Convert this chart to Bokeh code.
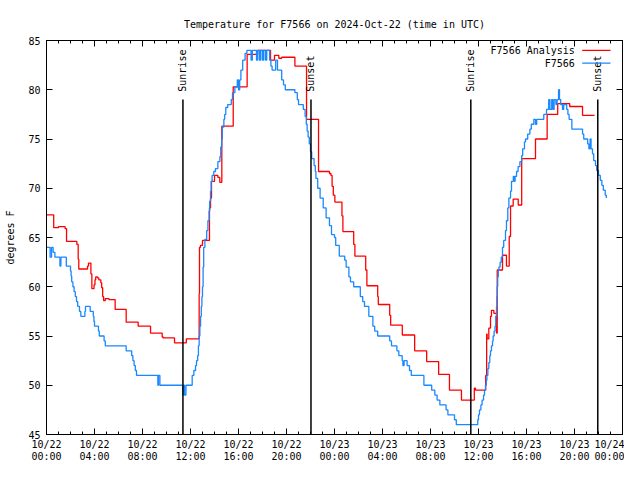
import numpy as np
import pandas as pd
from bokeh.plotting import figure
from bokeh.models import (Range1d, FixedTicker, DatetimeTickFormatter, DatetimeAxis,
                          LinearAxis, Label, Arrow)
from bokeh.embed import file_html
from bokeh.resources import INLINE
from bokeh.core.properties import value

START = pd.Timestamp("2024-10-22 00:00")
FONT = "DejaVu Sans Mono"

# F7566 Analysis (hours after 10/22 00:00 UTC, degrees F)
analysis_hours = [0, 0.6, 1.0, 1.55, 1.67, 2.53, 2.64, 2.69, 3.42, 3.5, 3.7, 3.78, 3.96, 4.04,
                  4.1, 4.25, 4.36, 4.53, 4.6, 4.68, 4.76, 4.9, 5.2, 5.72, 6.64, 7.64, 8.67,
                  9.64, 9.72, 10.67, 11.65, 12.72, 12.75, 12.83, 13.0, 13.58, 13.67, 13.75,
                  14.0, 14.28, 14.44, 14.61, 15.56, 16.72, 17.6, 18.67, 19.0, 19.36, 19.6,
                  20.7, 21.67, 22.67, 23.58, 23.7, 23.8, 23.9, 24.03, 24.62, 24.7, 25.6, 25.7,
                  26.6, 26.7, 27.6, 27.65, 28.6, 28.68, 29.65, 30.68, 31.68, 32.68, 33.58,
                  34.58, 35.65, 35.75, 36.6, 36.68, 36.72, 36.86, 37.0, 37.08, 37.28, 37.5,
                  37.56, 38.0, 38.33, 38.56, 38.67, 38.89, 39.31, 39.6, 40.75, 41.72, 42.6,
                  43.6, 44.67, 45.67]
analysis_temps = [67.3, 66.0, 66.1, 65.9, 64.6, 64.3, 62.8, 61.8, 62.1, 62.4, 61.3, 59.8, 60.2,
                  60.7, 61.0, 60.9, 60.7, 60.4, 59.9, 59.0, 58.6, 58.8, 58.7, 57.7, 56.4, 56.0,
                  55.3, 54.9, 54.8, 54.3, 54.7, 59.3, 64.0, 64.2, 64.7, 68.0, 69.0, 70.7, 71.3,
                  71.1, 70.6, 76.3, 80.3, 83.6, 84.0, 83.0, 83.5, 83.2, 83.3, 82.4, 77.0, 71.7,
                  71.5, 71.3, 70.2, 69.3, 68.6, 67.2, 65.6, 64.3, 63.1, 61.7, 60.1, 59.0, 58.2,
                  57.1, 56.1, 55.1, 53.5, 52.4, 51.1, 49.5, 48.5, 49.7, 49.5, 51.0, 55.2, 54.7,
                  55.8, 57.0, 57.6, 57.3, 55.3, 61.7, 63.2, 62.1, 65.1, 68.2, 68.9, 68.3, 73.0,
                  75.0, 77.5, 78.6, 78.3, 77.4, 77.4]

# F7566 observations
obs_hours = [0, 0.3, 0.42, 0.55, 0.7, 1.12, 1.2, 1.65, 2.0, 2.05, 2.1, 2.2, 2.3, 2.4, 2.5, 2.6,
             2.75, 2.86, 3.2, 3.25, 3.64, 3.9, 3.95, 4.0, 4.33, 4.4, 4.8, 4.9, 6.64, 7.1, 7.2,
             7.3, 7.4, 7.5, 9.28, 9.33, 9.45, 11.36, 11.42, 11.5, 11.62, 12.14, 12.28, 12.42,
             12.5, 12.6, 12.66, 12.72, 12.78, 12.84, 12.9, 12.95, 13.0, 13.05, 13.1, 13.2,
             13.35, 13.45, 13.55, 13.6, 13.67, 13.72, 13.8, 13.94, 14.08, 14.28, 14.45, 14.52,
             14.6, 14.65, 14.78, 14.85, 14.94, 15.1, 15.4, 15.5, 15.7, 15.9, 16.0, 16.1, 16.2,
             16.35, 16.55, 16.7, 17.05, 17.15, 17.5, 17.6, 17.75, 17.85, 18.0, 18.1, 18.25,
             18.35, 18.6, 18.7, 18.8, 19.1, 19.25, 19.6, 19.75, 19.9, 20.7, 20.9, 21.0, 21.4,
             21.55, 21.65, 21.72, 21.8, 21.9, 22.0, 22.1, 22.3, 22.4, 22.45, 22.6, 22.8,
             23.06, 23.3, 23.58, 23.75, 24.0, 24.1, 24.4, 24.85, 24.97, 25.2, 25.33, 25.6,
             26.15, 26.35, 26.5, 26.86, 27.2, 27.35, 27.6, 28.6, 28.75, 29.2, 29.36, 29.64,
             29.7, 29.8, 30.05, 30.25, 30.4, 31.45, 32.1, 32.36, 32.55, 32.78, 33.3, 33.45,
             34.0, 34.15, 35.94, 36.0, 36.08, 36.2, 36.3, 36.42, 36.5, 36.58, 36.65, 36.7,
             36.78, 36.86, 36.94, 37.0, 37.08, 37.17, 37.22, 37.3, 37.38, 37.44, 37.5, 37.53,
             37.56, 37.6, 37.65, 37.7, 37.8, 37.9, 38.0, 38.1, 38.25, 38.33, 38.44, 38.53,
             38.67, 38.75, 38.9, 39.0, 39.05, 39.17, 39.3, 39.45, 39.6, 39.68, 39.83, 39.92,
             40.1, 40.28, 40.4, 40.61, 40.75, 40.85, 41.44, 41.67, 41.85, 41.95, 42.1, 42.2,
             42.3, 42.45, 42.55, 42.67, 42.75, 42.85, 43.0, 43.1, 43.35, 43.45, 43.55, 43.78,
             44.67, 44.77, 45.1, 45.2, 45.3, 45.38, 45.5, 45.6, 45.75, 45.85, 46.0, 46.15,
             46.28, 46.4, 46.56, 46.65]
obs_temps = [64.0, 63.0, 64.0, 63.5, 63.0, 62.1, 63.0, 62.1, 61.6, 61.1, 60.5, 60.0, 59.5, 59.0,
             58.5, 58.0, 57.5, 57.0, 57.5, 58.0, 57.5, 57.0, 56.5, 56.0, 55.5, 55.0, 54.5, 54.0,
             53.5, 53.0, 52.5, 52.0, 51.5, 51.0, 50.0, 51.0, 50.0, 49.0, 50.0, 49.0, 50.0, 51.0,
             51.5, 52.0, 52.5, 53.0, 54.0, 55.0, 56.0, 57.0, 58.0, 59.0, 60.0, 62.0, 64.0, 64.8,
             65.7, 66.7, 67.7, 68.7, 69.7, 70.7, 71.3, 71.7, 72.0, 72.7, 73.2, 74.2, 75.0, 76.2,
             77.0, 77.5, 78.2, 78.5, 79.0, 79.7, 80.3, 81.0, 80.0, 81.0, 82.0, 83.0, 83.7, 84.0,
             83.0, 84.0, 83.0, 84.0, 83.0, 84.0, 83.0, 84.0, 83.0, 84.0, 83.0, 82.4, 82.0, 83.0,
             82.0, 81.0, 80.5, 80.0, 79.7, 79.0, 78.5, 78.0, 77.3, 76.5, 75.8, 75.2, 74.5, 73.7,
             73.0, 72.3, 71.7, 71.0, 70.0, 69.0, 68.0, 67.0, 66.2, 65.3, 65.0, 64.2, 63.1, 62.7,
             62.0, 61.0, 60.5, 60.0, 59.0, 58.5, 58.0, 57.0, 56.0, 55.5, 55.0, 54.5, 54.0, 53.5,
             53.0, 52.5, 52.0, 52.5, 52.0, 51.5, 51.0, 50.0, 49.5, 49.0, 48.5, 48.0, 47.5, 47.0,
             46.5, 46.0, 46.5, 47.0, 47.5, 48.0, 48.5, 49.0, 49.5, 50.0, 50.5, 51.0, 51.7, 52.3,
             53.0, 53.5, 54.0, 54.5, 55.0, 55.5, 56.0, 57.0, 58.0, 59.0, 60.0, 61.0, 61.7, 62.0,
             62.5, 63.0, 64.0, 64.7, 65.7, 66.7, 68.0, 69.0, 69.7, 70.7, 71.2, 70.7, 71.2, 71.7,
             72.2, 72.7, 73.3, 74.0, 74.7, 75.0, 75.5, 76.0, 76.5, 77.0, 76.5, 77.0, 77.5, 78.0,
             79.0, 78.0, 79.0, 78.0, 79.0, 78.5, 79.0, 80.0, 79.0, 78.5, 78.0, 78.5, 78.0, 77.5,
             77.0, 76.0, 75.5, 75.0, 74.5, 74.0, 75.0, 74.0, 73.5, 72.8, 72.3, 71.8, 71.3, 70.8,
             70.3, 69.8, 69.3, 69.0]

# Sun events (hours after 10/22 00:00 UTC)
sun_hours = [11.37, 22.04, 35.36, 45.94]
sun_labels = ["Sunrise", "Sunset", "Sunrise", "Sunset"]

x_tick_hours = list(range(0, 49, 4))
x_minor_hours = list(range(0, 49, 1))
y_ticks = [45, 50, 55, 60, 65, 70, 75, 80, 85]

series_names = ["F7566 Analysis", "F7566"]
series_colors = ["#ff0000", "#1a88ff"]


def to_dt(hours):
    return [START + pd.Timedelta(hours=h) for h in hours]


def to_ms(h):
    return (START + pd.Timedelta(hours=h)).timestamp() * 1000.0


p = figure(width=624, height=464, x_axis_type="datetime",
           output_backend="svg", toolbar_location=None,
           x_range=Range1d(START, START + pd.Timedelta(hours=48)),
           y_range=Range1d(45, 85),
           min_border_left=46, min_border_right=2, min_border_top=40, min_border_bottom=26)

p.title.text = "Temperature for F7566 on 2024-Oct-22 (time in UTC)"
p.title.align = "center"
p.title.text_font = FONT
p.title.text_font_size = "10px"
p.title.text_font_style = "normal"
p.title.text_color = "black"
p.title.standoff = 21

p.grid.visible = False
p.outline_line_color = "black"
p.outline_line_width = 1
p.background_fill_color = "white"
p.border_fill_color = "white"

xticker = FixedTicker(ticks=[to_ms(h) for h in x_tick_hours],
                      minor_ticks=[to_ms(h) for h in x_minor_hours])
fmt = "%m/%d\n%H:%M"
xfmt = DatetimeTickFormatter(microseconds=fmt, milliseconds=fmt, seconds=fmt, minsec=fmt,
                             minutes=fmt, hourmin=fmt, hours=fmt, days=fmt, months=fmt,
                             years=fmt)
yticker = FixedTicker(ticks=y_ticks)


def style_axis(ax, minor=True):
    ax.axis_line_color = "black"
    ax.major_tick_line_color = "black"
    ax.minor_tick_line_color = "black" if minor else None
    ax.major_tick_in = 6
    ax.major_tick_out = 0
    ax.minor_tick_in = 3
    ax.minor_tick_out = 0
    ax.major_label_text_font = FONT
    ax.major_label_text_font_size = "10px"
    ax.major_label_text_color = "black"


xa = p.xaxis[0]
xa.ticker = xticker
xa.formatter = xfmt
style_axis(xa)
xa.major_label_standoff = 4
xa.major_label_text_line_height = 1.1

ya = p.yaxis[0]
ya.ticker = yticker
style_axis(ya, minor=False)
ya.major_label_standoff = 6
ya.axis_label = "degrees F"
ya.axis_label_text_font = FONT
ya.axis_label_text_font_size = "10px"
ya.axis_label_text_font_style = "normal"
ya.axis_label_text_color = "black"
ya.axis_label_standoff = 9

# mirrored tick marks (no labels), as gnuplot draws them
top = DatetimeAxis(ticker=xticker, formatter=xfmt)
style_axis(top)
top.major_label_text_font_size = "0px"
top.major_label_text_color = None
top.major_label_standoff = 0
p.add_layout(top, "above")

right = LinearAxis(ticker=yticker)
style_axis(right, minor=False)
right.major_label_text_font_size = "0px"
right.major_label_text_color = None
right.major_label_standoff = 0
p.add_layout(right, "right")

# data lines
p.step(to_dt(analysis_hours), analysis_temps, mode="after",
       line_color=series_colors[0], line_width=1.3)
p.step(to_dt(obs_hours), obs_temps, mode="after",
       line_color=series_colors[1], line_width=1.3)

# sunrise / sunset markers
sun_x = to_dt(sun_hours)
p.segment(x0=sun_x, y0=[45] * 4, x1=sun_x, y1=[79] * 4, line_color="black", line_width=1.5)
p.text(x=sun_x, y=[79.8] * 4, text=sun_labels, angle=np.pi / 2,
       text_align="left", text_baseline="middle",
       text_font=value(FONT), text_font_size="10px", text_color="black")

# legend (gnuplot style: text then sample line)
legend_y = [84.0, 82.7]
for name, color, ly in zip(series_names, series_colors, legend_y):
    p.add_layout(Label(x=to_ms(44.03), y=ly, text=name, text_align="right",
                       text_baseline="middle", text_font=FONT, text_font_size="10px",
                       text_color="black"))
    p.add_layout(Arrow(end=None, x_start=to_ms(44.64), y_start=ly, x_end=to_ms(47.0),
                       y_end=ly, line_color=color, line_width=1.3))

open("out.html", "w").write(file_html(p, INLINE))
